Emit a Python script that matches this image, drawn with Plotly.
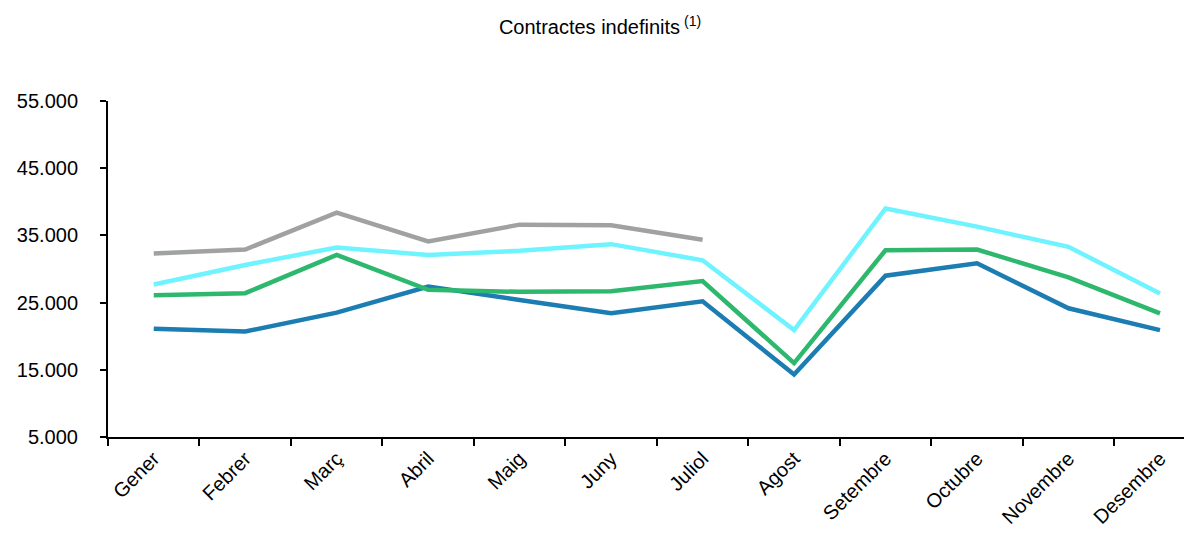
import plotly.graph_objects as go

months = ["Gener", "Febrer", "Març", "Abril", "Maig", "Juny", "Juliol",
          "Agost", "Setembre", "Octubre", "Novembre", "Desembre"]

serie_blau = [21100, 20700, 23500, 27400, 25400, 23400, 25200, 14300, 29000, 30850, 24150, 20900]
serie_verd = [26100, 26400, 32100, 26900, 26600, 26700, 28200, 16000, 32800, 32900, 28750, 23400]
serie_cian = [27700, 30600, 33200, 32100, 32700, 33700, 31300, 20900, 39000, 36300, 33300, 26350]
serie_gris = [32300, 32900, 38400, 34100, 36600, 36500, 34350]

y_ticks = [5000, 15000, 25000, 35000, 45000, 55000]
y_tick_text = ["5.000", "15.000", "25.000", "35.000", "45.000", "55.000"]

colors = {"blau": "#1B7DB1", "verd": "#2DB86E", "cian": "#6EF3FF", "gris": "#A0A2A2"}

fig = go.Figure()
fig.add_trace(go.Scatter(x=months, y=serie_blau, mode="lines",
                         line=dict(color=colors["blau"], width=4.5), showlegend=False))
fig.add_trace(go.Scatter(x=months, y=serie_verd, mode="lines",
                         line=dict(color=colors["verd"], width=4.5), showlegend=False))
fig.add_trace(go.Scatter(x=months, y=serie_cian, mode="lines",
                         line=dict(color=colors["cian"], width=4.5), showlegend=False))
fig.add_trace(go.Scatter(x=months[:len(serie_gris)], y=serie_gris, mode="lines",
                         line=dict(color=colors["gris"], width=4.5), showlegend=False))

W, H = 1184, 526
fig.update_layout(
    width=W, height=H,
    margin=dict(l=100, r=0, t=93, b=97),
    paper_bgcolor="white", plot_bgcolor="white",
    font=dict(family="Liberation Sans, Arial, sans-serif", color="black"),
    title=dict(text="Contractes indefinits<sup> (1)</sup>", x=0.5, xanchor="center",
               y=1 - 19 / H, yanchor="middle", font=dict(size=20, color="black")),
)
fig.update_xaxes(
    type="category", categoryorder="array", categoryarray=months,
    range=[-0.5, 11.35], showgrid=False, zeroline=False,
    showline=True, linecolor="black", linewidth=2,
    ticks="outside", tickson="boundaries", ticklen=7, tickwidth=2, tickcolor="black",
    tickangle=-45, tickfont=dict(size=20),
)
fig.update_yaxes(
    range=[5000, 55000], tickvals=y_ticks, ticktext=y_tick_text,
    showgrid=False, zeroline=False,
    showline=True, linecolor="black", linewidth=2,
    ticks="outside", ticklen=6, tickwidth=2, tickcolor="black",
    tickfont=dict(size=20), ticklabelstandoff=18,
)

fig.write_html("out.html")
